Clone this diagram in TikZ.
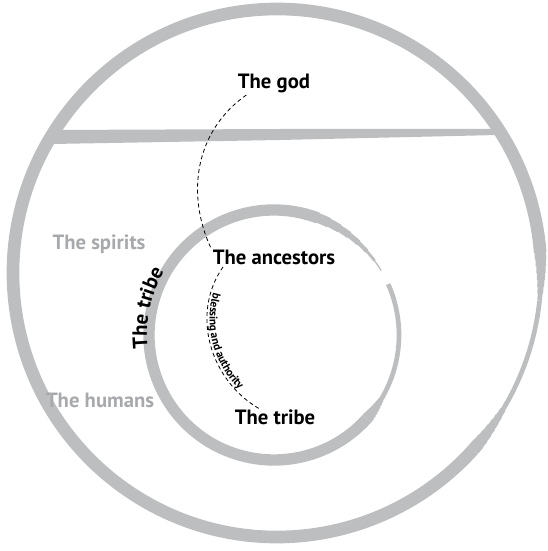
\documentclass[tikz,border=0pt]{standalone}
\usepackage{fontspec}
\setmainfont{PT Sans}
\usetikzlibrary{decorations.text}
\definecolor{brush}{HTML}{BCBEC0}
\definecolor{faint}{HTML}{A7A9AC}
\tikzset{
  stroke/.style={draw=brush, line width=8pt},
  lbl/.style={font=\bfseries\fontsize{15.5}{18}\selectfont, inner sep=1pt, anchor=base},
  link/.style={dash pattern=on 3pt off 2.2pt, line width=0.6pt}
}
\begin{document}
\begin{tikzpicture}[x=0.75pt, y=0.75pt]
  \useasboundingbox (0,0) rectangle (548,551);
  \coordinate (outer) at (277,278);
  \coordinate (inner) at (274,216);
  % outer ring and bar
  \draw[stroke, line width=9.5pt] ([shift={(6:264)}]outer) arc[start angle=6, end angle=318, radius=264];
  \draw[stroke, line width=3.5pt] ([shift={(-30:264)}]outer) arc[start angle=-30, end angle=-6, radius=264];
  \foreach \i in {0,...,7}{
    \pgfmathsetmacro\wid{9.5-6*\i/7}
    \pgfmathsetmacro\ang{-42+1.5*\i}
    \draw[stroke, line width=\wid pt] ([shift={(\ang:264)}]outer) arc[start angle=\ang, end angle=\ang+1.8, radius=264];
    \pgfmathsetmacro\wid{3.5+6*\i/7}
    \pgfmathsetmacro\ang{-6+1.5*\i}
    \draw[stroke, line width=\wid pt] ([shift={(\ang:264)}]outer) arc[start angle=\ang, end angle=\ang+1.8, radius=264];
  }
  \fill[brush] (52,421) -- (280,422) -- (498,422) -- (498,416) -- (280,411) -- (52,407) -- cycle;
  % inner ring
  \draw[stroke, line width=8.5pt] ([shift={(75:125)}]inner) arc[start angle=75, end angle=318, radius=125];
  \draw[stroke, line width=3.5pt] ([shift={(-30:125)}]inner) arc[start angle=-30, end angle=24, radius=125];
  \foreach \i in {0,...,7}{
    \pgfmathsetmacro\wid{8.5-5*\i/7}
    \pgfmathsetmacro\ang{-42+1.5*\i}
    \draw[stroke, line width=\wid pt] ([shift={(\ang:125)}]inner) arc[start angle=\ang, end angle=\ang+1.8, radius=125];
    \pgfmathsetmacro\wid{1+7.5*\i/7}
    \pgfmathsetmacro\ang{31+5.5*\i}
    \draw[stroke, line width=\wid pt] ([shift={(\ang:125)}]inner) arc[start angle=\ang, end angle=\ang+5.8, radius=125];
  }
  % labels
  \node[lbl] (god) at (274,462) {The god};
  \node[lbl] (anc) at (274,286) {The ancestors};
  \node[lbl] (tribe) at (275,126) {The tribe};
  \node[lbl, text=faint] (spirits) at (99,301) {The spirits};
  \node[lbl, text=faint] (humans) at (100,143) {The humans};
  \path[decorate, decoration={text along path, text={|\bfseries\fontsize{15.5}{18}\selectfont|The tribe}, text align=center}]
    ([shift={(200:127)}]inner) arc[start angle=200, end angle=136, radius=127];
  % links
  \draw[link] ([xshift=7.5pt]god.south west) to[out=215, in=115] (anc.north west);
  \draw[link, postaction={decorate, decoration={text along path, text={|\bfseries\fontsize{8.5}{10}\selectfont|blessing and authority}, text align=center, raise=2pt}}]
    (anc.190) to[out=235, in=150] (tribe.150);
\end{tikzpicture}
\end{document}
